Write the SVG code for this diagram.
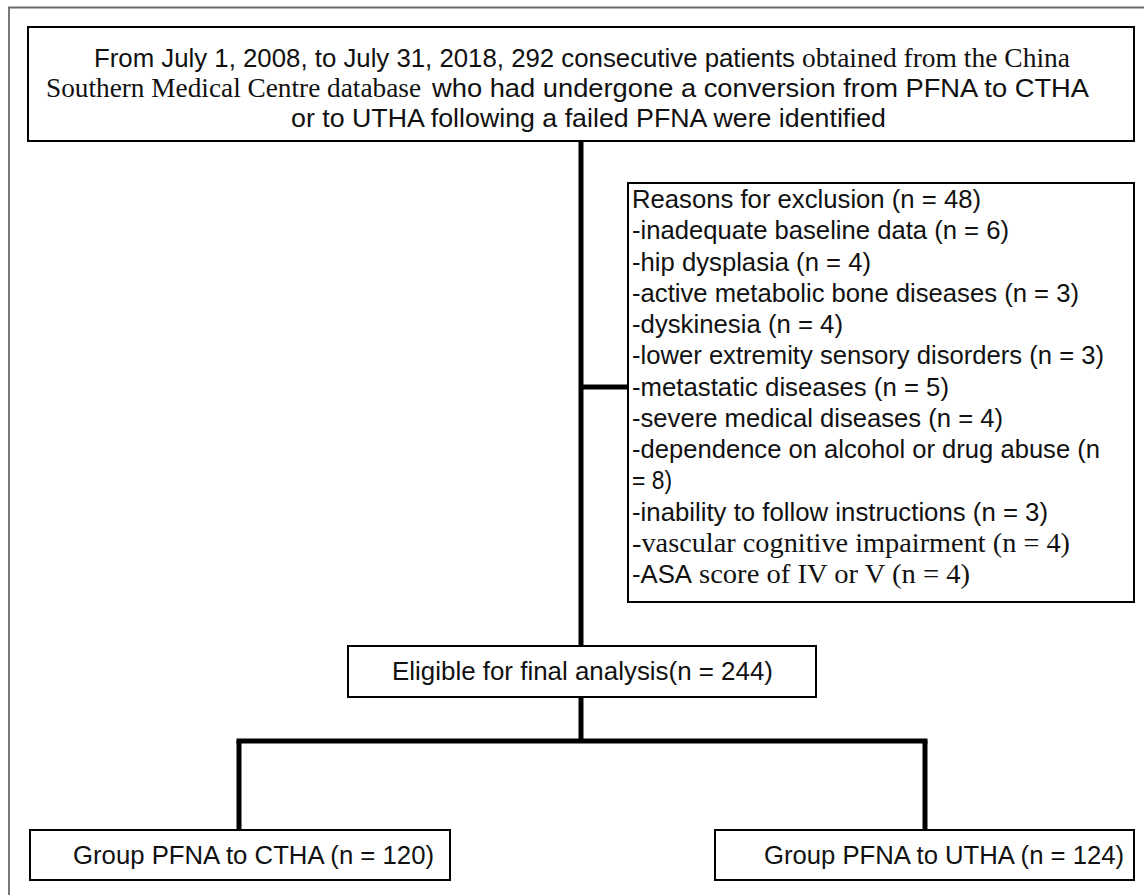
<svg xmlns="http://www.w3.org/2000/svg" width="1144" height="895" viewBox="0 0 1144 895">
<style>
.box{fill:#fff;stroke:#000;stroke-width:2}
.conn{stroke:#000;stroke-width:5;fill:none}
.frame{stroke:#6a6a6a;stroke-width:1.8;fill:none}
text{font-family:"Liberation Sans",Arial,sans-serif;font-size:25px;fill:#111}
.s{font-family:"Liberation Serif","Times New Roman",serif;font-size:28px}
</style>
<rect width="1144" height="895" fill="#fff"/>
<path class="frame" d="M9,895 V7.5 H1144"/>
<g id="connectors">
<line class="conn" x1="581" y1="141" x2="581" y2="646"/>
<line class="conn" x1="581" y1="387" x2="628" y2="387"/>
<line class="conn" x1="581" y1="697" x2="581" y2="741"/>
<line class="conn" x1="236.5" y1="741" x2="927.5" y2="741"/>
<line class="conn" x1="239" y1="741" x2="239" y2="830"/>
<line class="conn" x1="925" y1="741" x2="925" y2="830"/>
</g>
<g id="node-source">
<rect class="box" x="28" y="27" width="1106" height="114"/>
<text x="94" y="67" textLength="701" lengthAdjust="spacingAndGlyphs">From July 1, 2008, to July 31, 2018, 292 consecutive patients</text>
<text class="s" x="802" y="67" textLength="268" lengthAdjust="spacingAndGlyphs">obtained from the China</text>
<text class="s" x="46" y="97" textLength="375" lengthAdjust="spacingAndGlyphs">Southern Medical Centre database</text>
<text x="432" y="97" textLength="657" lengthAdjust="spacingAndGlyphs">who had undergone a conversion from PFNA to CTHA</text>
<text x="291" y="127" textLength="595" lengthAdjust="spacingAndGlyphs">or to UTHA following a failed PFNA were identified</text>
</g>
<g id="node-exclusion">
<rect class="box" x="628" y="183" width="506" height="419"/>
<text x="632" y="208" textLength="349" lengthAdjust="spacingAndGlyphs">Reasons for exclusion (n = 48)</text>
<text x="632" y="239.25" textLength="377" lengthAdjust="spacingAndGlyphs">-inadequate baseline data (n = 6)</text>
<text x="632" y="270.5" textLength="239" lengthAdjust="spacingAndGlyphs">-hip dysplasia (n = 4)</text>
<text x="632" y="301.75" textLength="447" lengthAdjust="spacingAndGlyphs">-active metabolic bone diseases (n = 3)</text>
<text x="632" y="333" textLength="211" lengthAdjust="spacingAndGlyphs">-dyskinesia (n = 4)</text>
<text x="632" y="364.25" textLength="472" lengthAdjust="spacingAndGlyphs">-lower extremity sensory disorders (n = 3)</text>
<text x="632" y="395.5" textLength="317" lengthAdjust="spacingAndGlyphs">-metastatic diseases (n = 5)</text>
<text x="632" y="426.75" textLength="371" lengthAdjust="spacingAndGlyphs">-severe medical diseases (n = 4)</text>
<text x="632" y="458" textLength="468" lengthAdjust="spacingAndGlyphs">-dependence on alcohol or drug abuse (n</text>
<text x="632" y="489.25" textLength="40" lengthAdjust="spacingAndGlyphs">= 8)</text>
<text x="632" y="520.5" textLength="416" lengthAdjust="spacingAndGlyphs">-inability to follow instructions (n = 3)</text>
<text class="s" x="632" y="551.75" textLength="438" lengthAdjust="spacingAndGlyphs">-vascular cognitive impairment (n = 4)</text>
<text x="632" y="583" textLength="60" lengthAdjust="spacingAndGlyphs">-ASA</text>
<text class="s" x="699" y="583" textLength="271" lengthAdjust="spacingAndGlyphs">score of IV or V (n = 4)</text>
</g>
<g id="node-eligible">
<rect class="box" x="348" y="646" width="468" height="51"/>
<text x="392" y="680" textLength="381" lengthAdjust="spacingAndGlyphs">Eligible for final analysis(n = 244)</text>
</g>
<g id="node-ctha">
<rect class="box" x="30" y="830" width="420" height="50"/>
<text x="73" y="864" textLength="361" lengthAdjust="spacingAndGlyphs">Group PFNA to CTHA (n = 120)</text>
</g>
<g id="node-utha">
<rect class="box" x="715" y="830" width="419" height="50"/>
<text x="764" y="864" textLength="360" lengthAdjust="spacingAndGlyphs">Group PFNA to UTHA (n = 124)</text>
</g>
</svg>
